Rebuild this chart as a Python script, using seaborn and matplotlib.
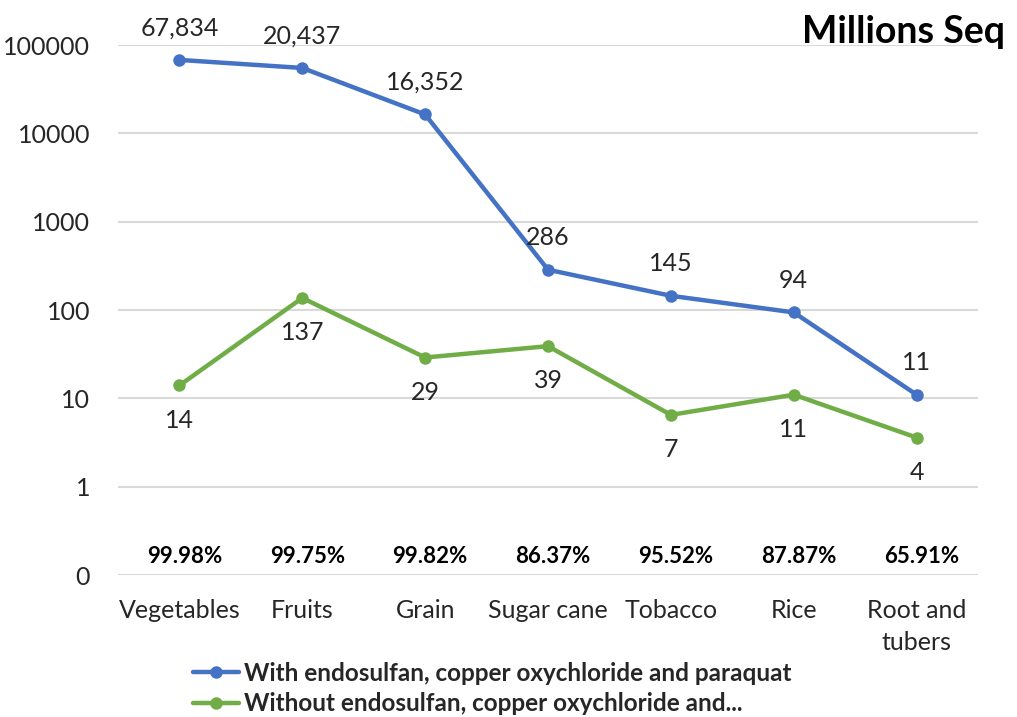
import pandas as pd
import numpy as np
import matplotlib.pyplot as plt
import seaborn as sns

# data
categories = ['Vegetables', 'Fruits', 'Grain', 'Sugar cane', 'Tobacco', 'Rice', 'Root and\ntubers']
with_values = [67834, 55000, 16352, 286, 145, 94, 11]
with_labels = ['67,834', '20,437', '16,352', '286', '145', '94', '11']
without_values = [14, 137, 29, 39, 6.5, 11, 3.6]
without_labels = ['14', '137', '29', '39', '7', '11', '4']
share_labels = ['99.98%', '99.75%', '99.82%', '86.37%', '95.52%', '87.87%', '65.91%']
y_ticks = [0.1, 1, 10, 100, 1000, 10000, 100000]
y_tick_labels = ['0', '1', '10', '100', '1000', '10000', '100000']

with_name = 'With endosulfan, copper oxychloride and paraquat'
without_name = 'Without endosulfan, copper oxychloride and...'

blue = '#4472C4'
green = '#70AD47'

sns.set_style('white')
plt.rcParams['font.family'] = ['Lato', 'DejaVu Sans']

df = pd.DataFrame({
    'Crop': categories * 2,
    'Value': with_values + without_values,
    'Series': [with_name] * len(categories) + [without_name] * len(categories),
})

fig = plt.figure(figsize=(10.17, 7.17), dpi=100)
ax = fig.add_axes([0.116, 0.198, 0.8457, 0.7392])

sns.lineplot(data=df, x='Crop', y='Value', hue='Series', palette=[blue, green],
             marker='o', markersize=9, markeredgewidth=0, linewidth=3.2,
             sort=False, ax=ax, legend=True)

ax.set_yscale('log')
ax.set_ylim(0.1, 100000)
ax.set_xlim(-0.5, len(categories) - 0.5)
ax.set_yticks(y_ticks)
ax.set_yticklabels(y_tick_labels)
ax.minorticks_off()
ax.yaxis.grid(True, color='#D9D9D9', linewidth=1.5)
ax.set_axisbelow(True)
for s in ax.spines.values():
    s.set_visible(False)
ax.tick_params(axis='both', length=0, labelsize=18, colors='#262626')
ax.tick_params(axis='y', pad=20)
ax.tick_params(axis='x', pad=17)
for lbl in ax.get_xticklabels():
    lbl.set_linespacing(1.5)
ax.set_xlabel('')
ax.set_ylabel('')

# data labels
for i, (v, t) in enumerate(zip(with_values, with_labels)):
    ax.annotate(t, (i, v), xytext=(0, 23), textcoords='offset points',
                ha='center', va='center', fontsize=18, color='#262626')
for i, (v, t) in enumerate(zip(without_values, without_labels)):
    ax.annotate(t, (i, v), xytext=(0, -25), textcoords='offset points',
                ha='center', va='center', fontsize=18, color='#262626')
for i, t in enumerate(share_labels):
    ax.text(i + 0.04, 0.163, t, ha='center', va='center', fontsize=16,
            fontweight='bold', color='black')

fig.text(0.988, 0.956, 'Millions Seq', ha='right', va='center', fontsize=27,
         fontweight='bold', color='black')

handles, labels = ax.get_legend_handles_labels()
ax.get_legend().remove()
fig.legend(handles, labels, loc='upper left', bbox_to_anchor=(0.19, 0.077),
           frameon=False, prop={'weight': 'bold', 'size': 17.5},
           handlelength=1.9, handletextpad=0.2, labelspacing=0.3, borderpad=0,
           borderaxespad=0)

plt.savefig('out.png', dpi=100)
